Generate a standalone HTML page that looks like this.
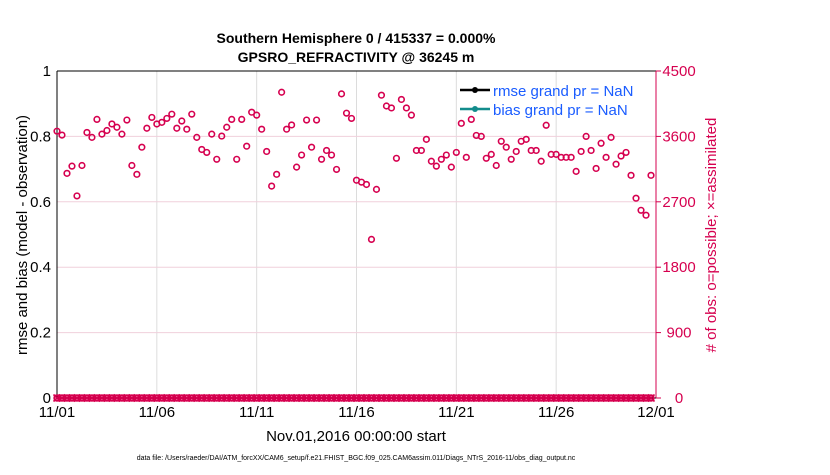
<!DOCTYPE html>
<html><head><meta charset="utf-8"><style>
body{margin:0;background:#fff;font-family:"Liberation Sans",sans-serif}
</style></head><body>
<svg id="c" width="830" height="470" xmlns="http://www.w3.org/2000/svg" font-family="Liberation Sans, sans-serif">
<text x="356" y="43" font-size="14" font-weight="bold" text-anchor="middle">Southern Hemisphere 0 / 415337 = 0.000%</text>
<text x="356" y="62" font-size="14" font-weight="bold" text-anchor="middle">GPSRO_REFRACTIVITY @ 36245 m</text>
<g id="grid"></g><g id="axes"></g><g id="marks"></g>
<text transform="translate(27,235) rotate(-90)" font-size="15" text-anchor="middle">rmse and bias (model - observation)</text>
<text transform="translate(716,235) rotate(-90)" font-size="15" fill="#d6004f" text-anchor="middle"># of obs: o=possible; ×=assimilated</text>
<text x="356" y="441" font-size="15" text-anchor="middle">Nov.01,2016 00:00:00 start</text>
<text x="356" y="460" font-size="7" text-anchor="middle">data file: /Users/raeder/DAI/ATM_forcXX/CAM6_setup/f.e21.FHIST_BGC.f09_025.CAM6assim.011/Diags_NTrS_2016-11/obs_diag_output.nc</text>
<g>
<line x1="460" y1="90" x2="490" y2="90" stroke="#000" stroke-width="2.5"/><circle cx="475" cy="90" r="3" fill="#000"/>
<text x="493" y="96" font-size="15" fill="#1a5cff">rmse grand pr = NaN</text>
<line x1="460" y1="109" x2="490" y2="109" stroke="#138c8c" stroke-width="2.5"/><circle cx="475" cy="109" r="3" fill="#138c8c"/>
<text x="493" y="115" font-size="15" fill="#1a5cff">bias grand pr = NaN</text>
</g>
</svg>
<script>
const possibleObs=[0.816,0.804,0.687,0.709,0.618,0.711,0.812,0.797,0.852,0.807,0.818,0.838,0.828,0.807,0.850,0.711,0.684,0.767,0.825,0.858,0.838,0.843,0.855,0.868,0.825,0.847,0.822,0.868,0.797,0.760,0.751,0.807,0.730,0.801,0.828,0.852,0.730,0.852,0.770,0.874,0.865,0.822,0.754,0.648,0.684,0.935,0.822,0.835,0.706,0.743,0.850,0.767,0.850,0.730,0.757,0.743,0.699,0.930,0.871,0.855,0.666,0.660,0.653,0.485,0.638,0.926,0.893,0.887,0.733,0.913,0.887,0.865,0.757,0.757,0.791,0.724,0.709,0.730,0.743,0.706,0.751,0.840,0.736,0.852,0.803,0.800,0.733,0.745,0.711,0.785,0.767,0.730,0.754,0.785,0.791,0.757,0.757,0.724,0.834,0.745,0.745,0.736,0.736,0.736,0.693,0.754,0.800,0.757,0.702,0.779,0.736,0.797,0.715,0.740,0.751,0.681,0.611,0.574,0.559,0.681];
const assimilatedObs=possibleObs.map(()=>0);
const xTickLabels=["11/01","11/06","11/11","11/16","11/21","11/26","12/01"];
const leftTicks=["0","0.2","0.4","0.6","0.8","1"];
const rightTicks=["0","900","1800","2700","3600","4500"];
const X0=57,X1=656,Y0=398,Y1=71,NS="http://www.w3.org/2000/svg",RED="#d6004f";
const xs=i=>X0+(X1-X0)*i/120; // 6-hourly over 30 days
const ys=v=>Y0-(Y0-Y1)*v;
function mk(t,a,p){const e=document.createElementNS(NS,t);for(const k in a)e.setAttribute(k,a[k]);p.appendChild(e);return e;}
const grid=document.getElementById('grid'),axes=document.getElementById('axes'),marks=document.getElementById('marks');
xTickLabels.forEach((l,i)=>{const x=X0+(X1-X0)*i/6;
 if(i>0&&i<6){const g=mk('line',{x1:x,x2:x,y1:Y1,y2:Y0,stroke:'#dcdcdc'},grid);}
 const t=mk('text',{x:x,y:Y0+19,'font-size':15,'text-anchor':'middle'},axes);t.textContent=l;
 });
leftTicks.forEach((l,i)=>{const y=ys(i/5);
 if(i>0&&i<5){const g=mk('line',{x1:X0,x2:X1,y1:y,y2:y,stroke:'#f0d0dc'},grid);}
 mk('line',{x1:X1,x2:X1+5,y1:y,y2:y,stroke:RED},axes);
 const t=mk('text',{x:X0-6,y:y+5,'font-size':15,'text-anchor':'end'},axes);t.textContent=l;
 
 const r=mk('text',{x:679,y:y+5,'font-size':15,fill:RED,'text-anchor':'middle'},axes);r.textContent=rightTicks[i];
 });
const la=mk('line',{x1:X0,x2:X0,y1:Y1,y2:Y0,stroke:'#000'},axes);
const ta=mk('line',{x1:X0,x2:X1,y1:Y1,y2:Y1,stroke:'#000'},axes);
const ra=mk('line',{x1:X1,x2:X1,y1:Y1,y2:Y0,stroke:RED},axes);
const xa=mk('line',{x1:X0,x2:X1,y1:Y0,y2:Y0,stroke:'#000'},axes);
possibleObs.forEach((v,i)=>{const c=mk('circle',{cx:xs(i),cy:ys(v),r:2.8,fill:'none',stroke:RED,'stroke-width':1.6},marks);
 });
assimilatedObs.forEach((v,i)=>{const x=xs(i),y=ys(v);
 const c=mk('circle',{cx:x,cy:y,r:2.8,fill:'none',stroke:RED,'stroke-width':1.8},marks);
 
 const p=mk('path',{d:`M${x-3.5},${y-3.5}L${x+3.5},${y+3.5}M${x-3.5},${y+3.5}L${x+3.5},${y-3.5}`,stroke:RED,'stroke-width':1.6},marks);
 });
</script>
</body></html>
